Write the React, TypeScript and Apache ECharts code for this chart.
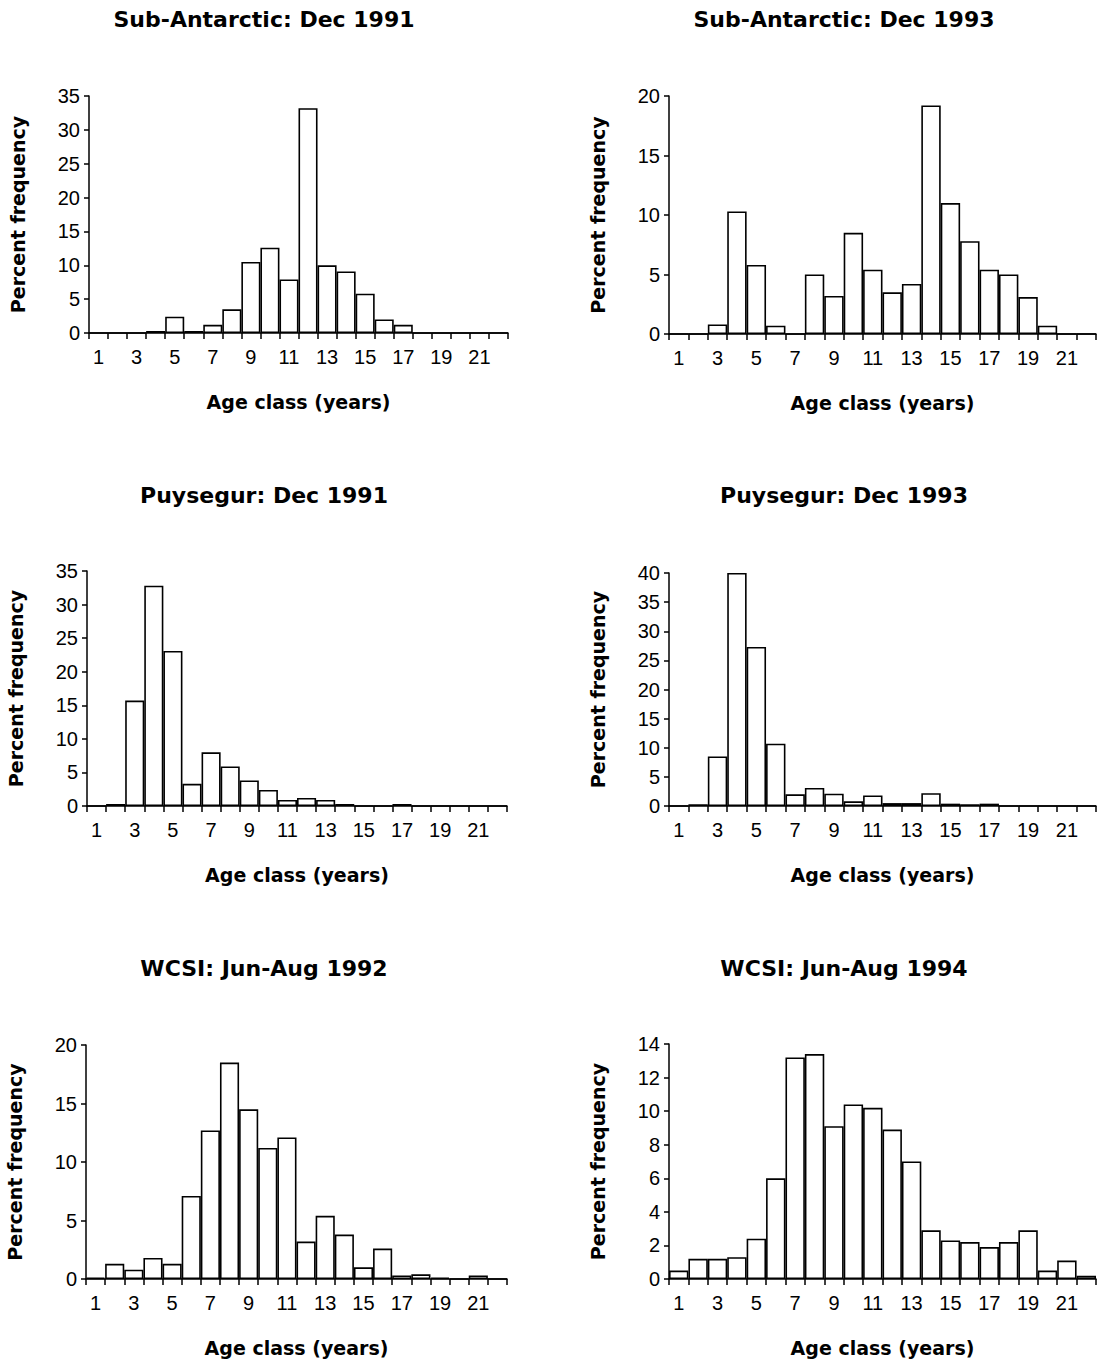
import React, { useEffect, useRef } from "react";
import * as echarts from "echarts";

const categories = ["1","2","3","4","5","6","7","8","9","10","11","12","13","14","15","16","17","18","19","20","21","22"];

const subAntarctic1991 = [0, 0, 0, 0.3, 2.4, 0.3, 1.2, 3.5, 10.5, 12.6, 7.9, 33.2, 10.0, 9.1, 5.8, 2.0, 1.2, 0, 0, 0, 0, 0];
const subAntarctic1993 = [0, 0, 0.8, 10.3, 5.8, 0.7, 0, 5.0, 3.2, 8.5, 5.4, 3.5, 4.2, 19.2, 11.0, 7.8, 5.4, 5.0, 3.1, 0.7, 0, 0];
const puysegur1991 = [0, 0.3, 15.7, 32.8, 23.1, 3.3, 8.0, 5.9, 3.8, 2.4, 0.9, 1.2, 0.9, 0.3, 0, 0, 0.3, 0, 0, 0, 0, 0];
const puysegur1993 = [0, 0.3, 8.5, 40, 27.3, 10.7, 2.0, 3.1, 2.1, 0.8, 1.8, 0.5, 0.5, 2.2, 0.4, 0.3, 0.4, 0, 0, 0, 0, 0];
const wcsi1992 = [0.1, 1.3, 0.8, 1.8, 1.3, 7.1, 12.7, 18.5, 14.5, 11.2, 12.1, 3.2, 5.4, 3.8, 1.0, 2.6, 0.3, 0.4, 0.1, 0, 0.3, 0];
const wcsi1994 = [0.5, 1.2, 1.2, 1.3, 2.4, 6.0, 13.2, 13.4, 9.1, 10.4, 10.2, 8.9, 7.0, 2.9, 2.3, 2.2, 1.9, 2.2, 2.9, 0.5, 1.1, 0.2];

const titles = [
  "Sub-Antarctic: Dec 1991",
  "Sub-Antarctic: Dec 1993",
  "Puysegur: Dec 1991",
  "Puysegur: Dec 1993",
  "WCSI: Jun-Aug 1992",
  "WCSI: Jun-Aug 1994",
];
const seriesData = [subAntarctic1991, subAntarctic1993, puysegur1991, puysegur1993, wcsi1992, wcsi1994];
const yMax = [35, 20, 35, 40, 20, 14];
const yStep = [5, 5, 5, 5, 5, 2];
const xName = "Age class (years)";
const yName = "Percent frequency";

const grids = [
  { left: 89, top: 96, width: 419, height: 237 },
  { left: 669, top: 96, width: 427, height: 238 },
  { left: 87, top: 571, width: 420, height: 235 },
  { left: 669, top: 573, width: 427, height: 233 },
  { left: 86, top: 1045, width: 421, height: 234 },
  { left: 669, top: 1044, width: 427, height: 235 },
];
const titlePos = [
  [264, 19], [844, 19],
  [264, 495], [844, 495],
  [264, 968], [844, 968],
];

export default function App() {
  const ref = useRef<HTMLDivElement>(null);
  useEffect(() => {
    if (!ref.current) return;
    const chart = echarts.init(ref.current, null, { renderer: "svg" });
    const axisLine = { show: true, onZero: false, lineStyle: { color: "#000", width: 1.5 } };
    const option: any = {
      animation: false,
      backgroundColor: "#fff",
      grid: grids.map((g) => ({ ...g, containLabel: false })),
      xAxis: grids.map((_, i) => ({
        type: "category",
        gridIndex: i,
        data: categories,
        boundaryGap: true,
        axisLine,
        axisTick: { show: true, interval: 0, alignWithLabel: false, length: 6, lineStyle: { color: "#000", width: 1.5 } },
        axisLabel: { interval: 1, margin: 14, color: "#000", fontSize: 20, fontFamily: "Liberation Sans" },
        splitLine: { show: false },
        name: xName,
        nameLocation: "middle",
        nameGap: 59,
        nameTextStyle: { color: "#000", fontSize: 19, fontWeight: "bold", fontFamily: "DejaVu Sans" },
      })),
      yAxis: grids.map((_, i) => ({
        type: "value",
        gridIndex: i,
        min: 0,
        max: yMax[i],
        interval: yStep[i],
        axisLine,
        axisTick: { show: true, length: 5, lineStyle: { color: "#000", width: 1.5 } },
        axisLabel: { margin: 9, color: "#000", fontSize: 20, fontFamily: "Liberation Sans" },
        splitLine: { show: false },
        name: yName,
        nameLocation: "middle",
        nameRotate: 90,
        nameGap: 62,
        nameTextStyle: { color: "#000", fontSize: 19, fontWeight: "bold", fontFamily: "DejaVu Sans" },
      })),
      series: seriesData.map((d, i) => ({
        type: "bar",
        xAxisIndex: i,
        yAxisIndex: i,
        data: d,
        barCategoryGap: "0%",
        itemStyle: { color: "#fff", borderColor: "#000", borderWidth: 1.6 },
        silent: true,
      })),
      graphic: titles.map((t, i) => ({
        type: "text",
        x: titlePos[i][0],
        y: titlePos[i][1],
        style: {
          text: t,
          align: "center",
          verticalAlign: "middle",
          font: 'bold 22px "DejaVu Sans"',
          fill: "#000",
        },
      })),
    };
    chart.setOption(option);
    return () => chart.dispose();
  }, []);
  return (
    <div
      ref={ref}
      style={{ position: "absolute", left: 0, top: 0, width: 1112, height: 1364, background: "#fff" }}
    />
  );
}
